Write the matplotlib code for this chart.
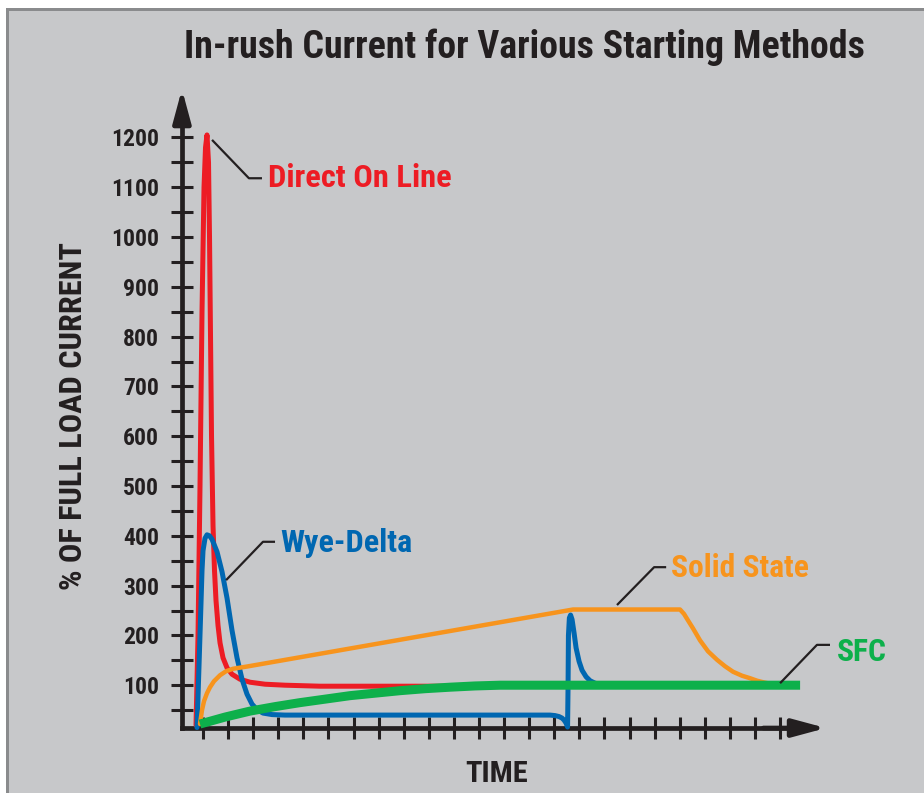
import matplotlib
matplotlib.use("Agg")
import matplotlib.pyplot as plt
from matplotlib import font_manager as fm
from matplotlib.patches import Rectangle
from matplotlib.ticker import FixedLocator, NullFormatter

# pick the first installed condensed family
_installed = {f.name for f in fm.fontManager.ttflist}
_prefs = ['Roboto Condensed', 'Nimbus Sans Narrow', 'Archivo Narrow', 'PT Sans Narrow',
          'IBM Plex Sans Condensed', 'Open Sans Condensed']
_cond = [p for p in _prefs if p in _installed][:1]
FONT = _cond + ['DejaVu Sans']
plt.rcParams['font.family'] = FONT

# ---------------- data (time in tick units, value in % of full load current)
title = "In-rush Current for Various Starting Methods"
y_label = "% OF FULL LOAD CURRENT"
x_label = "TIME"
y_major = [100, 200, 300, 400, 500, 600, 700, 800, 900, 1000, 1100, 1200]
y_minor = [50, 150, 250, 350, 450, 550, 650, 750, 850, 950, 1050, 1150]
x_ticks = list(range(24))

dol_t = [-0.279, -0.199, -0.120, -0.040, 0.040, 0.100, 0.159, 0.219, 0.259, 0.299, 0.339,
         0.399, 0.458, 0.518, 0.598, 0.678, 0.797, 0.957, 1.156, 1.475, 1.873, 2.471, 3.269,
         4.664, 11.04]
dol_v = [20, 200, 500, 850, 1100, 1180, 1205, 1150, 1000, 800, 600,
         420, 330, 270, 220, 185, 155, 135, 122, 112, 106, 102, 100,
         98, 98]

wye_t = [-0.239, -0.159, -0.080, -0.040, 0.0, 0.080, 0.159, 0.259, 0.359, 0.558, 0.757,
         0.957, 1.156, 1.355, 1.555, 1.754, 1.953, 2.152, 2.392, 2.750, 3.269,
         13.831, 14.031, 14.190, 14.310, 14.390, 14.470, 14.530, 14.550, 14.565, 14.602,
         14.650, 14.709, 14.789, 14.869, 14.988, 15.108, 15.267, 15.427, 15.626, 15.905, 16.423]
wye_v = [15, 140, 265, 330, 370, 395, 402, 400, 393, 368, 328,
         275, 210, 155, 112, 82, 62, 51, 44, 41, 40,
         40, 39, 37, 34, 30, 24, 16, 100, 200, 235,
         241, 232, 205, 175, 148, 130, 117, 109, 104, 101, 100]

ss_t = [-0.120, -0.040, 0.040, 0.159, 0.279, 0.438, 0.678, 0.917, 1.196, 1.754,
        14.748, 19.013, 19.173, 19.332, 19.531, 19.810, 20.129, 20.488, 20.807, 21.126,
        21.485, 21.804, 22.083, 22.322, 22.680, 22.999]
ss_v = [22, 50, 68, 84, 96, 108, 120, 128, 133, 137.5,
        252, 252, 243, 230, 214, 190, 168, 151, 138, 127,
        119, 114, 109, 106, 102, 100]

sfc_t = [-0.120, 0.877, 1.873, 2.870, 3.866, 4.863, 5.859, 6.856, 7.852, 8.849, 9.845,
         10.842, 11.838, 23.798]
sfc_v = [22, 36, 48, 57, 65, 72, 79, 84, 89, 93, 96, 98.5, 100, 100]

# series labels and leader-line anchors (data units)
labels = ["Direct On Line", "Wye-Delta", "Solid State", "SFC"]
label_colors = ["#ED1C24", "#0067B1", "#F7941D", "#0DB04B"]
leader_t = [[0.36, 1.83, 2.35], [0.92, 2.39, 2.87], [16.50, 17.98, 18.46], [23.0, 24.47, 24.99]]
leader_v = [[1195, 1118, 1118], [311, 388, 388], [261, 337, 337], [104, 181, 181]]
label_t = [2.60, 3.07, 18.64, 25.26]
label_v = [1101, 368, 318, 148]
label_w = [183, 132, 138, 50]   # target text widths in pixels

# ---------------- figure
W, H = 924, 793
fig = plt.figure(figsize=(W / 100, H / 100), dpi=100, facecolor='white')
fig.patches.append(Rectangle((6 / W, 0), 1, 1 - 7.5 / H, transform=fig.transFigure,
                             facecolor='#8a8b8d', edgecolor='none', zorder=-10))
fig.patches.append(Rectangle((9 / W, 0), 1, 1 - 10.5 / H, transform=fig.transFigure,
                             facecolor='#c7c8ca', edgecolor='none', zorder=-9))

renderer = fig.canvas.get_renderer()


def fit(t, target, vertical=False):
    for _ in range(3):
        bb = t.get_window_extent(renderer)
        cur = bb.height if vertical else bb.width
        t.set_fontsize(t.get_fontsize() * target / cur)


ax = fig.add_axes([150 / W, (H - 760) / H, 750 / W, 680 / H])
ax.set_facecolor('none')
ax.set_xlim(-2.113, 27.78)
ax.set_ylim(-50.2, 1315.3)

AX_COLOR = '#231f20'
y_axis_t = -0.84
x_axis_v = 14
y_tip = 1297
x_tip = 24.83

for s in ['top', 'right']:
    ax.spines[s].set_visible(False)
ax.spines['left'].set_position(('data', y_axis_t))
ax.spines['bottom'].set_position(('data', x_axis_v))
ax.spines['left'].set_bounds(x_axis_v, y_tip - 40)
ax.spines['bottom'].set_bounds(y_axis_t, x_tip - 1.2)
for s in ['left', 'bottom']:
    ax.spines[s].set_linewidth(3.4)
    ax.spines[s].set_color(AX_COLOR)
    ax.spines[s].set_capstyle('projecting')

for xy, xyt in [((y_axis_t, y_tip), (y_axis_t, y_tip - 60)), ((x_tip, x_axis_v), (x_tip - 2.5, x_axis_v))]:
    ax.annotate('', xy=xy, xytext=xyt,
                arrowprops=dict(arrowstyle='-|>,head_length=1.0,head_width=0.27', lw=3.4,
                                color=AX_COLOR, mutation_scale=20, shrinkA=0, shrinkB=0))

# tick label size fitted so "1000" is ~48 px wide
_tmp = fig.text(0, 0, "1000", fontsize=17, fontweight='bold', family=FONT)
fit(_tmp, 48)
tick_fs = _tmp.get_fontsize()
_tmp.remove()

ax.yaxis.set_major_locator(FixedLocator(y_major))
ax.yaxis.set_minor_locator(FixedLocator(y_minor))
ax.yaxis.set_minor_formatter(NullFormatter())
ax.xaxis.set_major_locator(FixedLocator(x_ticks))
ax.xaxis.set_major_formatter(NullFormatter())
ax.tick_params(which='both', direction='inout', length=16, width=2.2, color=AX_COLOR)
ax.tick_params(axis='y', which='major', pad=8.5, labelsize=tick_fs, labelcolor=AX_COLOR)
for lab in ax.get_yticklabels():
    lab.set_fontweight('bold')
    lab.set_family(FONT)

# ---------------- series
ax.plot(dol_t, dol_v, color="#ED1C24", lw=3.6, solid_joinstyle='round', solid_capstyle='round', zorder=3)
ax.plot(wye_t, wye_v, color="#0067B1", lw=3.6, solid_joinstyle='round', solid_capstyle='round', zorder=4)
ax.plot(ss_t, ss_v, color="#F7941D", lw=3.2, solid_joinstyle='round', solid_capstyle='round', zorder=5)
ax.plot(sfc_t, sfc_v, color="#0DB04B", lw=6.5, solid_joinstyle='round', solid_capstyle='butt', zorder=6)

# ---------------- labels with leader lines
for name, col, lt, lv, tt, tv, tw in zip(labels, label_colors, leader_t, leader_v, label_t, label_v, label_w):
    ax.plot(lt, lv, color=AX_COLOR, lw=1.6, zorder=7, solid_capstyle='butt')
    t = ax.text(tt, tv, name, color=col, fontsize=24, fontweight='bold', ha='left', va='baseline',
                family=FONT, zorder=8)
    fit(t, tw)

tt = fig.text(524.5 / W, 1 - 57.7 / H, title, ha='center', va='baseline', fontsize=28,
              fontweight='bold', color=AX_COLOR, family=FONT)
fit(tt, 683)
ty = fig.text(81.7 / W, 1 - 416 / H, y_label, ha='center', va='baseline', rotation=90, fontsize=24,
              fontweight='bold', color=AX_COLOR, family=FONT, rotation_mode='anchor')
fit(ty, 348, vertical=True)
tx = fig.text(496.7 / W, 1 - 781.5 / H, x_label, ha='center', va='baseline', fontsize=24,
              fontweight='bold', color=AX_COLOR, family=FONT)
fit(tx, 63)

fig.savefig('out.png', dpi=100, facecolor=fig.get_facecolor())
